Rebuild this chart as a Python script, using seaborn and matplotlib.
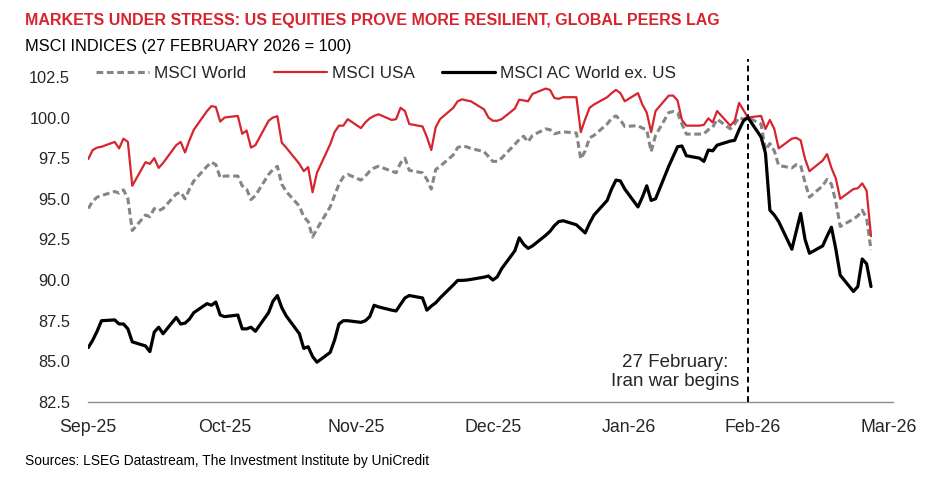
import matplotlib
matplotlib.use("Agg")
import matplotlib.pyplot as plt
from matplotlib.lines import Line2D
import seaborn as sns
import pandas as pd

# ── DATA (business days, 30 Sep 2025 – 27 Mar 2026; 27 Feb 2026 = 100) ──────
dates = pd.bdate_range("2025-09-30", "2026-03-27")

msci_world = [
    94.4,
    94.85, 95.1, 95.2, 95.45, 95.35, 95.55, 95.0, 93.05, 94.0, 93.9, 94.4, 94.27,
    94.4, 95.3, 95.4, 95.0, 95.6, 96.1, 97.0, 97.25, 97.1, 96.3, 96.4,
    96.4, 95.8, 95.6, 94.95, 95.2, 96.5, 96.8, 97.0, 95.9, 95.45, 94.55, 93.9,
    93.6, 92.65, 93.15, 94.5, 95.2, 95.9, 96.35, 96.5,
    96.15, 96.4, 96.7, 96.9, 97.0, 96.7, 96.6, 97.2, 97.5, 96.75, 96.6, 96.2,
    95.6, 96.8, 97.0, 97.7, 98.15, 98.25, 98.2, 98.1, 97.9, 97.6, 97.3,
    97.3, 97.5, 98.35, 98.65, 98.85, 98.5, 98.9, 99.3, 99.25, 99.0, 99.07, 99.12,
    99.05, 97.45, 97.95, 98.75, 98.9, 99.6, 99.95, 100.1, 99.85, 99.45,
    99.5, 99.35, 99.25, 97.9, 98.9, 100.3, 100.37, 100.3, 99.6, 98.98, 98.98,
    99.0, 99.25, 99.4, 99.9, 99.3, 99.6, 100.0, 99.9, 100.0,
    99.6, 98.0, 98.4, 97.95, 97.05, 96.9, 97.1, 97.05, 96.0, 95.1, 95.8, 96.2,
    95.9, 94.8, 93.3, 93.75, 93.95, 94.3, 93.8, 91.85,
]

msci_usa = [
    97.45,
    98.0, 98.15, 98.2, 98.5, 98.1, 98.7, 98.5, 95.8, 97.25, 97.15, 97.5, 96.9,
    97.2, 98.3, 98.5, 97.85, 98.6, 99.25, 100.4, 100.7, 100.65, 99.75, 100.0,
    100.1, 99.0, 99.2, 98.15, 98.3, 99.8, 100.0, 100.08, 98.45, 98.15, 97.15, 96.7,
    96.95, 95.4, 96.6, 98.35, 99.1, 99.5, 99.5, 99.9,
    99.35, 99.7, 99.95, 100.1, 100.2, 99.85, 99.9, 100.6, 100.4, 99.6, 99.45, 98.8,
    98.0, 99.4, 99.9, 100.6, 101.0, 101.12, 101.05, 101.0, 100.5, 100.0, 99.8,
    99.8, 99.9, 100.55, 101.1, 101.05, 101.0, 101.45, 101.78, 101.7, 101.2, 101.15,
    101.25, 101.25, 99.1, 99.9, 100.6, 100.8, 101.25, 101.5, 101.7, 101.5, 101.0,
    101.5, 100.8, 100.3, 99.1, 100.4, 101.35, 101.35, 101.05, 99.85, 99.5, 99.5,
    99.55, 99.95, 99.7, 100.4, 99.5, 99.8, 100.9, 100.45, 100.0,
    100.1, 99.3, 99.85, 99.3, 98.1, 98.7, 98.75, 98.6, 97.45, 96.7, 97.35, 97.75,
    96.9, 96.25, 95.0, 95.6, 95.65, 95.95, 95.5, 92.7,
]

msci_acwi_ex_us = [
    85.85,
    86.3, 86.85, 87.5, 87.55, 87.3, 87.3, 87.0, 86.2, 85.95, 85.6, 86.8, 87.1,
    86.7, 87.7, 87.3, 87.35, 87.6, 88.0, 88.55, 88.45, 88.65, 87.85, 87.75,
    87.85, 87.0, 87.0, 87.1, 86.85, 88.0, 88.7, 89.05, 88.3, 87.8, 86.7, 85.8,
    85.9, 85.3, 84.95, 85.55, 86.3, 87.3, 87.5, 87.5,
    87.4, 87.5, 87.75, 88.45, 88.35, 88.15, 88.1, 88.5, 88.9, 89.05, 88.9, 88.15,
    88.4, 88.6, 88.9, 89.7, 89.98, 89.98, 90.0, 90.04, 90.18, 90.25, 90.0,
    90.2, 90.7, 91.8, 92.6, 92.2, 91.95, 92.1, 92.75, 93.0, 93.35, 93.6, 93.65,
    93.4, 93.15, 92.9, 93.5, 94.0, 94.9, 95.6, 96.15, 96.1, 95.6,
    94.5, 95.1, 95.8, 94.9, 95.0, 97.0, 97.6, 98.2, 98.25, 97.65, 97.5,
    97.3, 98.0, 97.95, 98.3, 98.55, 98.6, 99.25, 99.8, 100.0,
    98.8, 97.8, 94.3, 94.0, 93.6, 91.9, 93.0, 94.1, 92.5, 91.65, 92.1, 92.7,
    93.25, 91.9, 90.3, 89.3, 89.6, 91.3, 91.0, 89.6,
]

SERIES = ["MSCI World", "MSCI USA", "MSCI AC World ex. US"]
event_date = pd.Timestamp("2026-02-27")
tick_dates = pd.to_datetime(["2025-09-30", "2025-10-31", "2025-11-30", "2025-12-31",
                             "2026-01-31", "2026-02-28", "2026-03-31"])
tick_labels = ["Sep-25", "Oct-25", "Nov-25", "Dec-25", "Jan-26", "Feb-26", "Mar-26"]
y_ticks = [82.5, 85.0, 87.5, 90.0, 92.5, 95.0, 97.5, 100.0, 102.5]

# ── STYLE ────────────────────────────────────────────────────────────────────
RED = "#D6252E"
GREY = "#858585"
BLACK = "#000000"
PALETTE = {"MSCI World": GREY, "MSCI USA": RED, "MSCI AC World ex. US": BLACK}
WIDTHS = {"MSCI World": 2.2, "MSCI USA": 1.6, "MSCI AC World ex. US": 2.3}
DASHES = {"MSCI World": (2.2, 1.2), "MSCI USA": "", "MSCI AC World ex. US": ""}

sns.set_style("white")
plt.rcParams["font.family"] = ["Liberation Sans", "DejaVu Sans"]

df = pd.DataFrame({"date": dates, SERIES[0]: msci_world,
                   SERIES[1]: msci_usa, SERIES[2]: msci_acwi_ex_us})
long = df.melt(id_vars="date", var_name="series", value_name="index")

fig = plt.figure(figsize=(9.48, 4.82), dpi=100)
ax = fig.add_axes([88.3 / 948, 80 / 482, (893 - 88.3) / 948, (402 - 59) / 482])

sns.lineplot(data=long, x="date", y="index", hue="series", style="series",
             size="series", hue_order=SERIES, style_order=SERIES, size_order=SERIES,
             palette=PALETTE, dashes=DASHES, sizes=WIDTHS, legend=False, ax=ax,
             solid_joinstyle="round", dash_capstyle="butt")

ax.axvline(event_date, color=BLACK, lw=1.4, dashes=(3.0, 2.0), zorder=5)
ax.annotate("27 February:\nIran war begins", xy=(event_date, 84.35),
            xytext=(-6, 0), textcoords="offset points", ha="right", va="center",
            multialignment="center", fontsize=13.5, linespacing=1.15)

ax.set_xlim(pd.Timestamp("2025-09-30"), pd.Timestamp("2026-04-01"))
ax.set_ylim(82.5, 103.6)
ax.set_xticks(tick_dates)
ax.set_xticklabels(tick_labels, fontsize=12.8)
ax.set_yticks(y_ticks)
ax.set_yticklabels([f"{v:.1f}" for v in y_ticks], fontsize=11.8)
ax.tick_params(axis="x", length=0, pad=12)
ax.tick_params(axis="y", length=0, pad=13)
ax.set_xlabel("")
ax.set_ylabel("")
for side in ["top", "right", "left"]:
    ax.spines[side].set_visible(False)
ax.spines["bottom"].set_color("#8C8C8C")
ax.spines["bottom"].set_linewidth(1.0)

handles = [Line2D([], [], color=PALETTE[s], lw=WIDTHS[s],
                  dashes=DASHES[s] if DASHES[s] else (None, None)) for s in SERIES]
handles[1].set_linestyle("-")
handles[2].set_linestyle("-")
ax.legend(handles, SERIES, loc="center left", bbox_to_anchor=(96 / 948, 1 - 73 / 482),
          bbox_transform=fig.transFigure, ncol=3, frameon=False, fontsize=12.3,
          handlelength=3.1, handletextpad=0.3, columnspacing=1.6,
          borderpad=0, borderaxespad=0)

fig.text(25 / 948, 1 - 20 / 482,
         "MARKETS UNDER STRESS: US EQUITIES PROVE MORE RESILIENT, GLOBAL PEERS LAG",
         ha="left", va="center", fontsize=11.5, fontweight="bold", color=RED)
fig.text(25 / 948, 1 - 47 / 482, "MSCI INDICES (27 FEBRUARY 2026 = 100)",
         ha="left", va="center", fontsize=11.8, color=BLACK)
fig.text(25 / 948, 1 - 461 / 482,
         "Sources: LSEG Datastream, The Investment Institute by UniCredit",
         ha="left", va="center", fontsize=9.9, color=BLACK)

fig.savefig("out.png", dpi=100, facecolor="white")
plt.close(fig)
